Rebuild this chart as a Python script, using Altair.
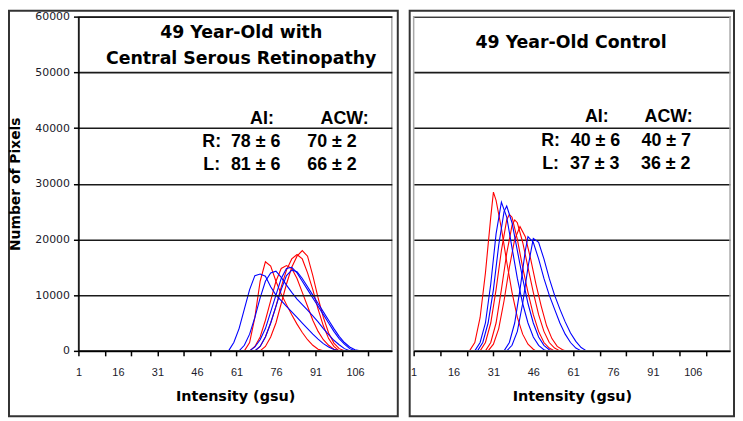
import altair as alt
import pandas as pd

# ---------------- data: left panel (49 year-old with CSR) ----------------
LR1_x = [64, 66, 68, 70, 72, 74, 76, 78, 80, 82, 84, 86, 88, 90, 92, 94]
LR1_y = [0, 1500, 6000, 12500, 16000, 15200, 12500, 10200, 8300, 6500, 4800, 3300, 2000, 1000, 300, 0]
LR2_x = [66, 68, 70, 72, 74, 76, 78, 80, 82, 84, 86, 88, 90, 92, 94, 96, 98, 100]
LR2_y = [0, 800, 2500, 5500, 9000, 12500, 14800, 15300, 14800, 13000, 10500, 8000, 5500, 3500, 2000, 1000, 300, 0]
LR3_x = [68, 70, 72, 74, 76, 78, 80, 82, 84, 86, 88, 90, 92, 94, 96, 98, 100]
LR3_y = [0, 800, 2500, 5000, 8000, 11500, 14500, 16500, 17300, 16500, 14000, 11000, 7500, 4500, 2200, 800, 0]
LR4_x = [70, 72, 74, 76, 78, 80, 82, 84, 86, 88, 90, 92, 94, 96, 98, 100, 102]
LR4_y = [0, 800, 2500, 5000, 8500, 12000, 15000, 17000, 18000, 17000, 13500, 9500, 6000, 3200, 1400, 400, 0]
LB1_x = [58, 60, 62, 64, 66, 68, 70, 72, 74, 76, 78, 80, 82, 84, 86, 88, 90, 92, 94, 96, 98, 100]
LB1_y = [0, 1500, 4000, 7500, 11000, 13500, 13800, 13400, 11500, 10000, 9000, 8000, 7000, 6000, 5000, 4000, 3000, 2100, 1300, 700, 250, 0]
LB2_x = [62, 64, 66, 68, 70, 72, 74, 76, 78, 80, 82, 84, 86, 88, 90, 92, 94, 96, 98, 100, 102, 104]
LB2_y = [0, 1000, 3000, 6000, 9500, 12500, 14000, 14300, 13200, 11800, 10500, 9300, 8300, 7300, 6300, 5200, 4000, 2900, 1900, 1100, 400, 0]
LB3_x = [66, 68, 70, 72, 74, 76, 78, 80, 82, 84, 86, 88, 90, 92, 94, 96, 98, 100, 102, 104, 106]
LB3_y = [0, 700, 2000, 4000, 7000, 10000, 13000, 14800, 15000, 14000, 12500, 11000, 9500, 8000, 6500, 5000, 3500, 2200, 1200, 400, 0]
LB4_x = [68, 70, 72, 74, 76, 78, 80, 82, 84, 86, 88, 90, 92, 94, 96, 98, 100, 102, 104, 106, 108]
LB4_y = [0, 800, 2500, 5000, 8000, 11000, 13500, 14500, 14200, 13000, 11500, 10000, 8500, 7000, 5500, 4000, 2600, 1500, 700, 200, 0]

# ---------------- data: right panel (49 year-old control) ----------------
RR1_x = [22, 24, 26, 28, 30, 31, 32, 34, 36, 38, 40, 42, 44, 46, 47]
RR1_y = [0, 1500, 6000, 14000, 24000, 28500, 27000, 22000, 16000, 10500, 6000, 3000, 1200, 300, 0]
RR2_x = [26, 28, 30, 32, 34, 36, 37, 38, 40, 42, 44, 46, 48, 50, 52, 54]
RR2_y = [0, 1500, 5000, 11000, 18000, 23500, 24500, 24000, 20000, 15000, 10500, 6500, 3500, 1500, 500, 0]
RR3_x = [28, 30, 32, 34, 36, 38, 39, 40, 42, 44, 46, 48, 50, 52, 54, 56]
RR3_y = [0, 1500, 5000, 11000, 17500, 22500, 23500, 23000, 19500, 15000, 10500, 6500, 3500, 1500, 500, 0]
RR4_x = [29, 31, 33, 35, 37, 39, 41, 43, 45, 47, 49, 51, 53, 55, 57, 58]
RR4_y = [0, 1200, 4000, 9000, 15000, 20000, 22300, 20500, 16500, 12000, 8000, 4500, 2200, 800, 200, 0]
RB1_x = [24, 26, 28, 30, 32, 34, 36, 38, 40, 42, 44, 46, 48, 50, 51]
RB1_y = [0, 1500, 5000, 12000, 21000, 26700, 24000, 18500, 13000, 8500, 5000, 2500, 1000, 200, 0]
RB2_x = [25, 27, 29, 31, 33, 35, 36, 38, 40, 42, 44, 46, 48, 50, 52, 53]
RB2_y = [0, 1500, 5000, 11000, 19000, 25000, 26000, 23000, 18000, 13000, 8500, 5000, 2500, 1000, 200, 0]
RB3_x = [35, 37, 39, 41, 43, 44, 46, 48, 50, 52, 54, 56, 58, 60, 62, 64]
RB3_y = [0, 1500, 5000, 11000, 18000, 20500, 19500, 16500, 13000, 10000, 7500, 5000, 3000, 1500, 500, 0]
RB4_x = [36, 38, 40, 42, 44, 46, 48, 50, 52, 54, 56, 58, 60, 62, 64, 66]
RB4_y = [0, 1000, 3500, 8500, 15000, 20200, 19500, 16500, 13000, 10000, 7500, 5200, 3200, 1700, 600, 0]

# ---------------- annotations ----------------
L_title = ["49 Year-Old with", "Central Serous Retinopathy"]
L_title_x = [62.8, 62.8]
L_title_y = [57140, 52330]
L_stats = ["AI:", "ACW:", "R:", "78 ± 6", "70 ± 2", "L:", "81 ± 6", "66 ± 2"]
L_stats_x = [70.7, 102.1, 51.6, 68.3, 97.3, 51.6, 68.3, 97.3]
L_stats_y = [41650, 41650, 37430, 37430, 37430, 33400, 33400, 33400]

R_title = ["49 Year-Old Control"]
R_title_x = [60.2]
R_title_y = [55230]
R_stats = ["AI:", "ACW:", "R:", "40 ± 6", "40 ± 7", "L:", "37 ± 3", "36 ± 2"]
R_stats_x = [69.9, 96.9, 52.5, 69.4, 96.0, 52.5, 69.1, 95.8]
R_stats_y = [42000, 42000, 37740, 37740, 37740, 33590, 33590, 33590]

y_values = [0, 10000, 20000, 30000, 40000, 50000, 60000]
x_tick_values = [1, 11, 21, 31, 41, 51, 61, 71, 81, 91, 101, 111]
x_label_values = [1, 16, 31, 46, 61, 76, 91, 106]

left_series = [("R", LR1_x, LR1_y), ("R", LR2_x, LR2_y), ("R", LR3_x, LR3_y), ("R", LR4_x, LR4_y),
               ("B", LB1_x, LB1_y), ("B", LB2_x, LB2_y), ("B", LB3_x, LB3_y), ("B", LB4_x, LB4_y)]
right_series = [("R", RR1_x, RR1_y), ("R", RR2_x, RR2_y), ("R", RR3_x, RR3_y), ("R", RR4_x, RR4_y),
                ("B", RB1_x, RB1_y), ("B", RB2_x, RB2_y), ("B", RB3_x, RB3_y), ("B", RB4_x, RB4_y)]


def series_df(series):
    rows = []
    for i, (c, xs, ys) in enumerate(series):
        for x, y in zip(xs, ys):
            rows.append({"id": i, "c": c, "x": x, "y": y})
    return pd.DataFrame(rows)


PLOT_H = 337
SANS = "DejaVu Sans"
ARIAL = "Liberation Sans"


def panel(series, t_text, t_x, t_y, s_text, s_x, s_y, width, show_y, frame):
    xs = alt.Scale(domain=[1, 120], nice=False, zero=False)
    ys = alt.Scale(domain=[0, 60000], nice=False)
    tick_axis = alt.Axis(values=x_tick_values, labels=False, ticks=True, tickSize=5,
                         tickColor="black", tickWidth=1.5, domain=True, domainColor="black",
                         domainWidth=1.5, grid=False, orient="bottom", zindex=2,
                         title="Intensity (gsu)", titleFont=SANS, titleFontSize=14.5,
                         titleFontWeight="bold", titleColor="black", titlePadding=33)
    label_axis = alt.Axis(values=x_label_values, labels=True, ticks=False, tickSize=0,
                          domain=False, grid=False, orient="bottom", labelFont=ARIAL,
                          labelFontSize=11, labelColor="#1a1a2a", labelPadding=16,
                          labelFlush=False, labelOverlap=False, title=None)
    if show_y:
        y_axis = alt.Axis(values=y_values, grid=True, gridColor="#1a1a1a", gridWidth=1.6,
                          domain=True, domainColor="black", domainWidth=1.5, ticks=True,
                          tickSize=5, tickColor="black", tickWidth=1.5, labelFont=SANS,
                          labelFontSize=11, labelColor="#1a1a2a", labelPadding=4,
                          labelFlush=False, format="d", zindex=2,
                          title="Number of Pixels", titleFont=SANS, titleFontSize=14,
                          titleFontWeight="bold", titleColor="black", titlePadding=12)
    else:
        y_axis = alt.Axis(values=y_values, grid=True, gridColor="#1a1a1a", gridWidth=1.6,
                          domain=False, ticks=False, labels=False, title=None)

    lines = alt.Chart(series_df(series)).mark_line(strokeWidth=1.1).encode(
        x=alt.X("x:Q", scale=xs, axis=tick_axis),
        y=alt.Y("y:Q", scale=ys, axis=y_axis),
        color=alt.Color("c:N", scale=alt.Scale(domain=["R", "B"], range=["#ff0000", "#0000ff"]),
                        legend=None),
        detail="id:N",
    )
    plot_border = alt.Chart(pd.DataFrame({"a": [0]})).mark_rect(
        filled=False, stroke="#a8a8a8", strokeWidth=1.5
    ).encode(x=alt.value(0), x2=alt.value(width), y=alt.value(0), y2=alt.value(PLOT_H))

    titles = alt.Chart(pd.DataFrame({"x": t_x, "y": t_y, "t": t_text})).mark_text(
        font=SANS, fontSize=17.5, fontWeight="bold", color="black", align="center", baseline="middle"
    ).encode(
        x=alt.X("x:Q", scale=xs, axis=label_axis),
        y=alt.Y("y:Q", scale=ys, axis=None),
        text="t:N",
    )
    stats = alt.Chart(pd.DataFrame({"x": s_x, "y": s_y, "t": s_text})).mark_text(
        font=ARIAL, fontSize=18, fontWeight="bold", color="black", align="center", baseline="middle"
    ).encode(
        x=alt.X("x:Q", scale=xs, axis=None),
        y=alt.Y("y:Q", scale=ys, axis=None),
        text="t:N",
    )
    outer = alt.Chart(pd.DataFrame({"a": [0]})).mark_rect(
        filled=False, stroke="#333333", strokeWidth=2
    ).encode(x=alt.value(frame[0]), x2=alt.value(frame[1]),
             y=alt.value(frame[2]), y2=alt.value(frame[3]))

    return alt.layer(lines, plot_border, titles, stats, outer).resolve_axis(
        x="independent", y="independent"
    ).properties(width=width, height=PLOT_H)


left = panel(left_series, L_title, L_title_x, L_title_y, L_stats, L_stats_x, L_stats_y,
             316, True, (-70, 322, -6, 403))
right = panel(right_series, R_title, R_title_x, R_title_y, R_stats, R_stats_x, R_stats_y,
              319, False, (-4, 323, -6, 403))

chart = alt.hconcat(left, right, spacing=10).properties(
    padding=0, background="white"
).configure_view(stroke=None)

chart.save("out.html", embed_options={"renderer": "svg", "actions": False})
